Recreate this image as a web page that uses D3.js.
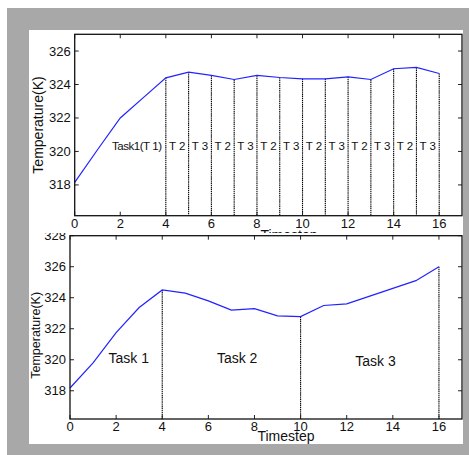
<!DOCTYPE html>
<html>
<head>
<meta charset="utf-8">
<script src="https://cdn.jsdelivr.net/npm/d3@7"></script>
<style>
  body { margin: 0; background: #fff; }
  svg text { font-family: "Liberation Sans", Arial, sans-serif; fill: #111; }
</style>
</head>
<body>
<div id="chart"></div>
<script>
// data
var steps = d3.range(0, 17);
var tempTop = [318.15, 320.1, 322.0, 323.2, 324.4, 324.74, 324.54, 324.3, 324.54, 324.42,
               324.34, 324.34, 324.46, 324.3, 324.94, 325.02, 324.66];
var tempBottom = [318.18, 319.8, 321.75, 323.37, 324.5, 324.3, 323.8, 323.2, 323.3, 322.83,
                  322.78, 323.5, 323.6, 324.1, 324.6, 325.1, 326.0];
var topBounds = [4, 5, 6, 7, 8, 9, 10, 11, 12, 13, 14, 15, 16];
var topLabels = ["T 2", "T 3", "T 2", "T 3", "T 2", "T 3", "T 2", "T 3", "T 2", "T 3", "T 2", "T 3"];
var bottomBounds = [4, 10, 16];
var bottomLabels = [{t: "Task 1", x: 2.55, y: 320.1}, {t: "Task 2", x: 7.25, y: 320.1}, {t: "Task 3", x: 13.25, y: 319.95}];
var xTicks = [0, 2, 4, 6, 8, 10, 12, 14, 16];
var yTicksTop = [318, 320, 322, 324, 326];
var yTicksBottom = [318, 320, 322, 324, 326, 328];

var W = 469, H = 455;
var svg = d3.select("#chart").append("svg")
    .attr("width", W)
    .attr("height", H);

// gray frame and white sheet
svg.append("rect").attr("x", 7).attr("y", 8).attr("width", 462).attr("height", 447).attr("fill", "#a8a8a8");
svg.append("rect").attr("x", 29).attr("y", 30).attr("width", 434).attr("height", 414).attr("fill", "#fff");

var line = function(x, y, vals) {
    return d3.line().x(function(d, i) { return x(steps[i]); }).y(function(d) { return y(d); })(vals);
};

function drawAxes(g, x, y, yTicks, opt) {
    var x0 = x.range()[0], x1 = x.range()[1], y0 = y.range()[0], y1 = y.range()[1];
    // ticks on all four sides, pointing in
    xTicks.forEach(function(t) {
        g.append("line").attr("x1", x(t)).attr("x2", x(t)).attr("y1", y0).attr("y2", y0 - 4).attr("stroke", "#222");
        g.append("line").attr("x1", x(t)).attr("x2", x(t)).attr("y1", y1).attr("y2", y1 + 4).attr("stroke", "#222");
        g.append("text").attr("x", x(t)).attr("y", y0 + 12).attr("text-anchor", "middle")
            .style("font-size", "13px").text(t);
    });
    yTicks.forEach(function(t) {
        g.append("line").attr("x1", x0).attr("x2", x0 + 4).attr("y1", y(t)).attr("y2", y(t)).attr("stroke", "#222");
        g.append("line").attr("x1", x1).attr("x2", x1 - 4).attr("y1", y(t)).attr("y2", y(t)).attr("stroke", "#222");
        g.append("text").attr("x", x0 - 4).attr("y", y(t) + 4.5).attr("text-anchor", "end")
            .style("font-size", "13px").text(t);
    });
    g.append("rect").attr("x", x0).attr("y", y1).attr("width", x1 - x0).attr("height", y0 - y1)
        .attr("fill", "none").attr("stroke", "#111").attr("stroke-width", 1.3);
    g.append("text")
        .attr("transform", "translate(" + opt.ylx + "," + ((y0 + y1) / 2 + opt.yly) + ") rotate(-90)")
        .attr("text-anchor", "middle").style("font-size", opt.ylSize).text("Temperature(K)");
    g.append("text").attr("x", opt.xlx).attr("y", y0 + opt.xly).attr("text-anchor", "middle")
        .style("font-size", "14px").text("Timestep");
}

// ---- top panel
var xA = d3.scaleLinear().domain([0, 17]).range([74.7, 462]);
var yA = d3.scaleLinear().domain([316.16, 327]).range([215.7, 34.3]);
var gA = svg.append("g");

topBounds.forEach(function(b) {
    gA.append("line").attr("x1", xA(b)).attr("x2", xA(b)).attr("y1", yA(tempTop[b])).attr("y2", yA.range()[0])
        .attr("stroke", "#000").attr("stroke-width", 1.1).attr("stroke-dasharray", "1.4,0.7");
});
gA.append("path").attr("d", line(xA, yA, tempTop)).attr("fill", "none").attr("stroke", "#2222ff").attr("stroke-width", 1.2);
gA.append("text").attr("x", 137).attr("y", 150).attr("text-anchor", "middle")
    .style("font-size", "11.5px").attr("textLength", 50).text("Task1(T 1)");
topLabels.forEach(function(t, i) {
    gA.append("text").attr("x", xA(topBounds[i] + 0.5)).attr("y", 150).attr("text-anchor", "middle")
        .style("font-size", "11.5px").text(t);
});
drawAxes(gA, xA, yA, yTicksTop, {ylx: 43, yly: 0, ylSize: "14px", xlx: 289, xly: 24});

// ---- bottom panel, covers the top one from y=233
svg.append("clipPath").attr("id", "clipB").append("rect")
    .attr("x", 29).attr("y", 233).attr("width", 434).attr("height", 211);
var gB = svg.append("g").attr("clip-path", "url(#clipB)");
gB.append("rect").attr("x", 29).attr("y", 233).attr("width", 434).attr("height", 211).attr("fill", "#fff");

var xB = d3.scaleLinear().domain([0, 17]).range([70, 462]);
var yB = d3.scaleLinear().domain([316.18, 328]).range([419, 235.7]);

bottomBounds.forEach(function(b) {
    gB.append("line").attr("x1", xB(b)).attr("x2", xB(b)).attr("y1", yB(tempBottom[b])).attr("y2", yB.range()[0])
        .attr("stroke", "#000").attr("stroke-width", 1.1).attr("stroke-dasharray", "1.4,0.7");
});
gB.append("path").attr("d", line(xB, yB, tempBottom)).attr("fill", "none").attr("stroke", "#2222ff").attr("stroke-width", 1.2);
bottomLabels.forEach(function(l) {
    gB.append("text").attr("x", xB(l.x)).attr("y", yB(l.y) + 5).attr("text-anchor", "middle")
        .style("font-size", "14px").text(l.t);
});
drawAxes(gB, xB, yB, yTicksBottom, {ylx: 40, yly: 8, ylSize: "12.5px", xlx: 286, xly: 22});
</script>
</body>
</html>
